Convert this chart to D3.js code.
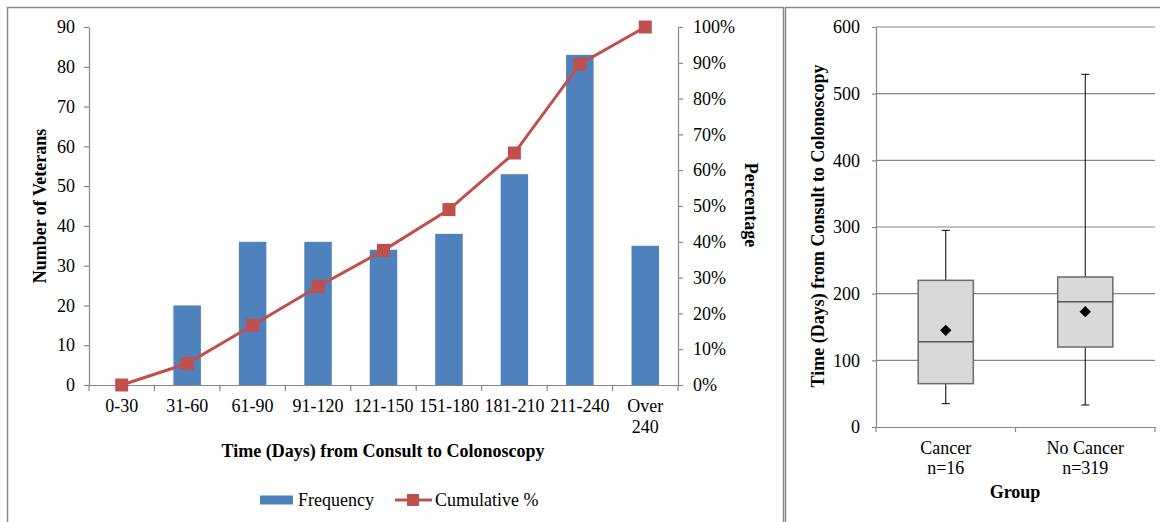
<!DOCTYPE html>
<html>
<head>
<meta charset="utf-8">
<script src="https://cdn.jsdelivr.net/npm/d3@7"></script>
<style>
  html, body { margin: 0; padding: 0; background: #fff; }
  svg { display: block; }
</style>
</head>
<body>
<svg id="chart" width="1160" height="522"></svg>
<script>
// Histogram of wait times (days from consult to colonoscopy)
const categories = ["0-30", "31-60", "61-90", "91-120", "121-150", "151-180", "181-210", "211-240", "Over 240"];
const frequency = [0, 20, 36, 36, 34, 38, 53, 83, 35];
const cumulativePct = [0, 6.0, 16.7, 27.5, 37.6, 49.0, 64.8, 89.6, 100];
const leftTicks = [0, 10, 20, 30, 40, 50, 60, 70, 80, 90];
const rightTicks = [0, 10, 20, 30, 40, 50, 60, 70, 80, 90, 100];

// Box plot summary by group
const groups = ["Cancer", "No Cancer"];
const groupN = ["n=16", "n=319"];
const whiskerLow = [35, 33];
const q1 = [65, 120];
const median = [128, 188];
const q3 = [220, 225];
const whiskerHigh = [295, 529];
const mean = [145, 173];
const boxTicks = [0, 100, 200, 300, 400, 500, 600];

const FONT = "'Liberation Serif', 'Times New Roman', Times, serif";
const FS = "18px";
const svg = d3.select("#chart");
const axisGray = "#868686";
const barBlue = "#4F81BD";
const lineRed = "#C0504D";

// panel frames
svg.append("rect").attr("x", 7.5).attr("y", 7.5).attr("width", 776).attr("height", 540)
  .attr("fill", "none").attr("stroke", "#8c8c8c").attr("stroke-width", 1.5);
svg.append("rect").attr("x", 785.5).attr("y", 7.5).attr("width", 400).attr("height", 540)
  .attr("fill", "none").attr("stroke", "#8c8c8c").attr("stroke-width", 1.5);

// ---------- left panel ----------
const x = d3.scaleBand().domain(categories).range([89, 678]).paddingInner(0).paddingOuter(0);
const yL = d3.scaleLinear().domain([0, 90]).range([385, 27]);
const yR = d3.scaleLinear().domain([0, 100]).range([385, 27]);

const gL = svg.append("g");

// bars
gL.selectAll("rect.bar").data(frequency).enter().append("rect")
  .attr("class", "bar")
  .attr("x", (d, i) => x(categories[i]) + x.bandwidth() / 2 - x.bandwidth() * 0.21)
  .attr("width", x.bandwidth() * 0.42)
  .attr("y", d => yL(d))
  .attr("height", d => yL(0) - yL(d))
  .attr("fill", barBlue);

// left axis
const axL = gL.append("g").attr("transform", "translate(89,0)")
  .call(d3.axisLeft(yL).tickValues(leftTicks).tickSize(5).tickSizeOuter(0).tickPadding(9));
// right axis
const axR = gL.append("g").attr("transform", "translate(678,0)")
  .call(d3.axisRight(yR).tickValues(rightTicks).tickSize(5).tickSizeOuter(0).tickPadding(10)
    .tickFormat(d => d + "%"));
[axL, axR].forEach(a => {
  a.select(".domain").attr("stroke", axisGray).attr("stroke-width", 1.2);
  a.selectAll(".tick line").attr("stroke", axisGray).attr("stroke-width", 1.2);
  a.selectAll(".tick text").style("font-size", FS);
});

// category axis with ticks between categories
const axX = gL.append("g").attr("transform", "translate(0,385)")
  .call(d3.axisBottom(x).tickSize(0).tickSizeOuter(0).tickFormat(""));
axX.select(".domain").attr("stroke", axisGray).attr("stroke-width", 1.2);
const edges = categories.map(c => x(c)).concat([x.range()[1]]);
axX.selectAll("line.edge").data(edges).enter().append("line")
  .attr("class", "edge").attr("x1", d => d).attr("x2", d => d)
  .attr("y1", 0).attr("y2", 6).attr("stroke", axisGray).attr("stroke-width", 1.2);
axX.selectAll("text.cat").data(categories).enter().append("text")
  .attr("class", "cat")
  .attr("text-anchor", "middle")
  .style("font-size", FS)
  .attr("transform", d => `translate(${x(d) + x.bandwidth() / 2},0)`)
  .each(function (d) {
    const parts = d === "Over 240" ? ["Over", "240"] : [d];
    d3.select(this).selectAll("tspan").data(parts).enter().append("tspan")
      .attr("x", 0).attr("y", (p, j) => 26.5 + j * 21).text(p => p);
  });

// cumulative line
const line = d3.line().x((d, i) => x(categories[i]) + x.bandwidth() / 2).y(d => yR(d));
gL.append("path").datum(cumulativePct).attr("d", line)
  .attr("fill", "none").attr("stroke", lineRed).attr("stroke-width", 3);
gL.selectAll("rect.marker").data(cumulativePct).enter().append("rect")
  .attr("class", "marker")
  .attr("x", (d, i) => x(categories[i]) + x.bandwidth() / 2 - 6.5)
  .attr("y", d => yR(d) - 6.5)
  .attr("width", 13).attr("height", 13)
  .attr("fill", lineRed);

// titles
gL.append("text").attr("transform", "translate(46,206) rotate(-90)")
  .attr("text-anchor", "middle").style("font-size", FS).style("font-weight", "bold")
  .text("Number of Veterans");
gL.append("text").attr("transform", "translate(745,205) rotate(90)")
  .attr("text-anchor", "middle").style("font-size", FS).style("font-weight", "bold")
  .text("Percentage");
gL.append("text").attr("x", 383).attr("y", 457)
  .attr("text-anchor", "middle").style("font-size", FS).style("font-weight", "bold")
  .text("Time (Days) from Consult to Colonoscopy");

// legend
const lg = gL.append("g").attr("transform", "translate(0,500)");
lg.append("rect").attr("x", 260).attr("y", -4.5).attr("width", 33).attr("height", 9).attr("fill", barBlue);
lg.append("text").attr("x", 298).attr("y", 6).style("font-size", FS).text("Frequency");
lg.append("line").attr("x1", 395).attr("x2", 432).attr("y1", 0).attr("y2", 0)
  .attr("stroke", lineRed).attr("stroke-width", 3);
lg.append("rect").attr("x", 407).attr("y", -6).attr("width", 12).attr("height", 12).attr("fill", lineRed);
lg.append("text").attr("x", 435).attr("y", 6).style("font-size", FS).text("Cumulative %");

// ---------- right panel ----------
const xb = d3.scaleBand().domain(groups).range([876, 1155]).paddingInner(0).paddingOuter(0);
const yb = d3.scaleLinear().domain([0, 600]).range([427, 27]);
const gR = svg.append("g");

// grid lines
gR.selectAll("line.grid").data(boxTicks.filter(t => t > 0)).enter().append("line")
  .attr("class", "grid").attr("x1", 876).attr("x2", 1155)
  .attr("y1", d => yb(d)).attr("y2", d => yb(d))
  .attr("stroke", axisGray).attr("stroke-width", 1.2);

const axB = gR.append("g").attr("transform", "translate(876,0)")
  .call(d3.axisLeft(yb).tickValues(boxTicks).tickSize(4).tickSizeOuter(0).tickPadding(12));
axB.select(".domain").attr("stroke", axisGray).attr("stroke-width", 1.2);
axB.selectAll(".tick line").attr("stroke", axisGray).attr("stroke-width", 1.2);
axB.selectAll(".tick text").style("font-size", FS);

const axG = gR.append("g").attr("transform", "translate(0,427)")
  .call(d3.axisBottom(xb).tickSize(0).tickSizeOuter(0).tickFormat(""));
axG.select(".domain").attr("stroke", axisGray).attr("stroke-width", 1.2);
const gEdges = groups.map(g => xb(g)).concat([xb.range()[1]]);
axG.selectAll("line.edge").data(gEdges).enter().append("line")
  .attr("class", "edge").attr("x1", d => d).attr("x2", d => d)
  .attr("y1", 0).attr("y2", 5).attr("stroke", axisGray).attr("stroke-width", 1.2);
axG.selectAll("text.grp").data(groups).enter().append("text")
  .attr("class", "grp").attr("text-anchor", "middle").style("font-size", FS)
  .attr("transform", d => `translate(${xb(d) + xb.bandwidth() / 2},0)`)
  .each(function (d, i) {
    d3.select(this).selectAll("tspan").data([d, groupN[i]]).enter().append("tspan")
      .attr("x", 0).attr("y", (p, j) => 27 + j * 20).text(p => p);
  });

// boxes
const boxW = xb.bandwidth() * 0.395;
groups.forEach((g, i) => {
  const cx = xb(g) + xb.bandwidth() / 2;
  const bg = gR.append("g");
  bg.append("line").attr("x1", cx).attr("x2", cx)
    .attr("y1", yb(whiskerHigh[i])).attr("y2", yb(q3[i])).attr("stroke", "#000").attr("stroke-width", 1);
  bg.append("line").attr("x1", cx).attr("x2", cx)
    .attr("y1", yb(q1[i])).attr("y2", yb(whiskerLow[i])).attr("stroke", "#000").attr("stroke-width", 1);
  [whiskerHigh[i], whiskerLow[i]].forEach(v => {
    bg.append("line").attr("x1", cx - 4).attr("x2", cx + 4)
      .attr("y1", yb(v)).attr("y2", yb(v)).attr("stroke", "#000").attr("stroke-width", 1);
  });
  bg.append("rect").attr("x", cx - boxW / 2).attr("width", boxW)
    .attr("y", yb(q3[i])).attr("height", yb(q1[i]) - yb(q3[i]))
    .attr("fill", "#D9D9D9").attr("stroke", "#6b6b6b").attr("stroke-width", 1.5);
  bg.append("line").attr("x1", cx - boxW / 2).attr("x2", cx + boxW / 2)
    .attr("y1", yb(median[i])).attr("y2", yb(median[i])).attr("stroke", "#555").attr("stroke-width", 1.5);
  bg.append("path").attr("transform", `translate(${cx},${yb(mean[i])}) rotate(45)`)
    .attr("d", "M-4,-4H4V4H-4Z").attr("fill", "#000");
});

gR.append("text").attr("transform", "translate(824,226) rotate(-90)")
  .attr("text-anchor", "middle").style("font-size", FS).style("font-weight", "bold")
  .text("Time (Days) from Consult to Colonoscopy");
gR.append("text").attr("x", 1015).attr("y", 498)
  .attr("text-anchor", "middle").style("font-size", FS).style("font-weight", "bold")
  .text("Group");

// serif face on every label, axes included
svg.selectAll("g").attr("font-family", null);
svg.selectAll("text").style("font-family", FONT).attr("fill", "#000");
</script>
</body>
</html>
